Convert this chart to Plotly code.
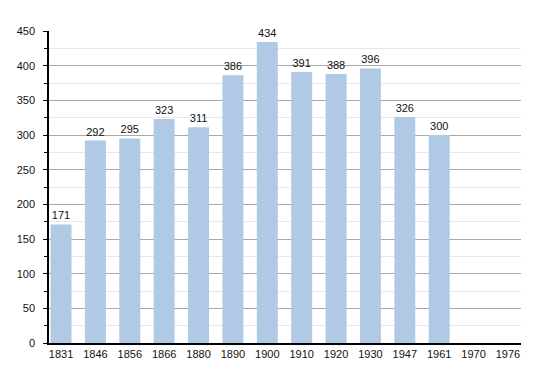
import plotly.graph_objects as go

years = ["1831", "1846", "1856", "1866", "1880", "1890", "1900", "1910", "1920", "1930", "1947", "1961", "1970", "1976"]
population = [171, 292, 295, 323, 311, 386, 434, 391, 388, 396, 326, 300, None, None]
labels = [str(v) if v is not None else "" for v in population]

fig = go.Figure(go.Bar(
    x=years, y=population, text=labels, textposition="outside",
    textfont=dict(size=11, color="#111111", family="Liberation Sans, Arial, sans-serif"),
    marker=dict(color="#b0c9e4", line=dict(width=0)),
    cliponaxis=False,
))

fig.update_layout(
    width=550, height=373,
    margin=dict(l=49, r=29, t=31, b=30, autoexpand=False),
    paper_bgcolor="white", plot_bgcolor="white",
    bargap=0.39, showlegend=False,
    font=dict(family="Liberation Sans, Arial, sans-serif", size=11, color="#111"),
    xaxis=dict(type="category", range=[-0.35, 13.38], showline=True, linecolor="black",
               linewidth=1.5, ticks="", showgrid=False, tickfont=dict(size=11),
               automargin=False),
    yaxis=dict(range=[0, 450], dtick=50, showline=True, linecolor="black", linewidth=1.5,
               ticks="outside", ticklen=4, tickcolor="black", gridcolor="#a8a8a8",
               gridwidth=1, zeroline=False, tickfont=dict(size=11), automargin=False,
               ticklabelstandoff=6,
               minor=dict(dtick=25, ticks="outside", ticklen=3, tickcolor="black",
                          showgrid=True, gridcolor="#e8e8e8")),
)

fig.write_html("out.html", config={"displayModeBar": False},
               post_script="document.body.style.margin='0';")
